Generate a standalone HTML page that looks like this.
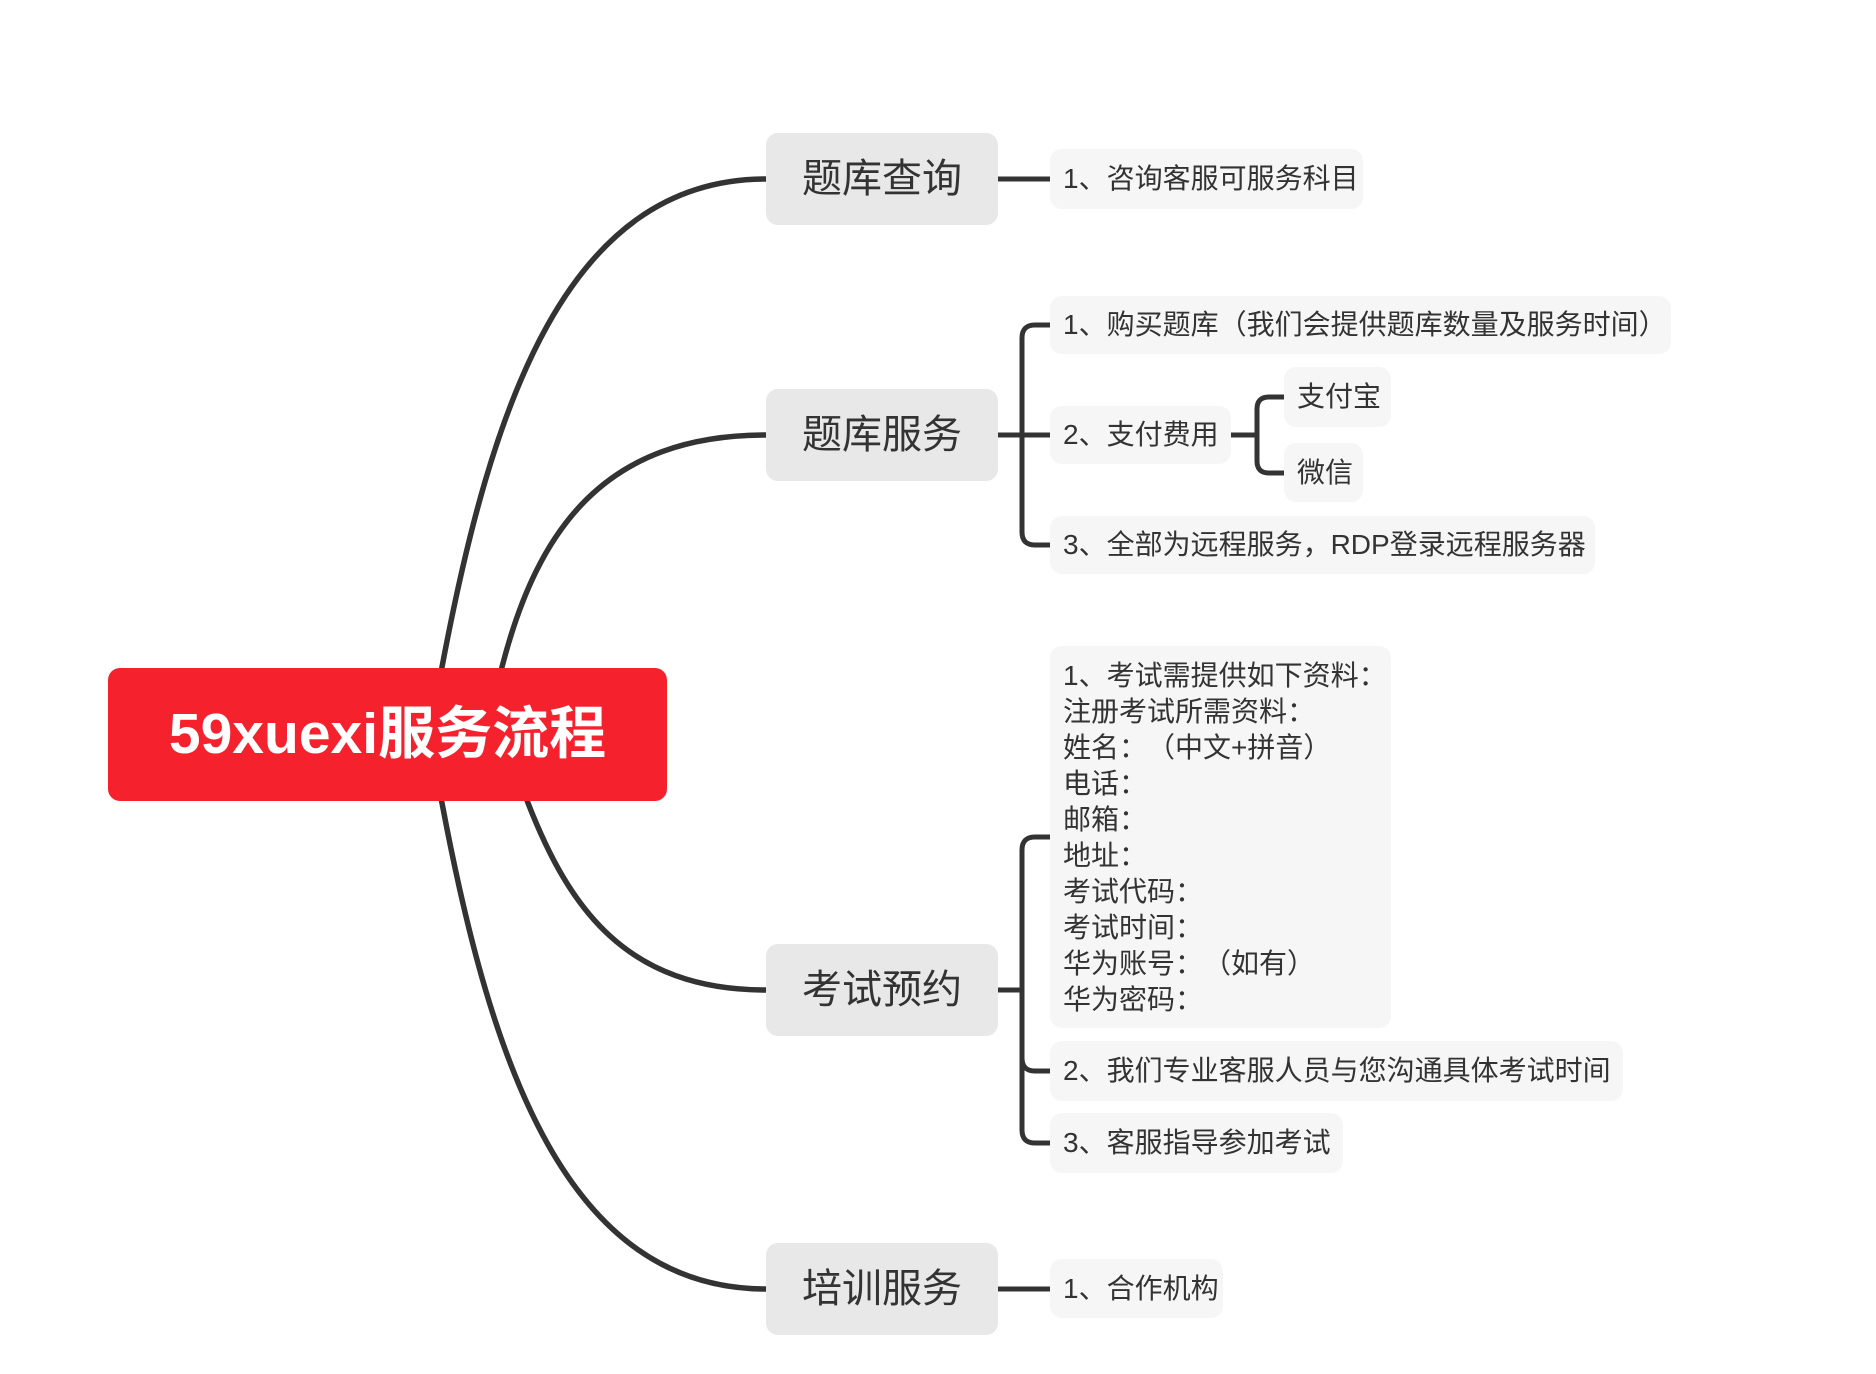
<!DOCTYPE html>
<html>
<head>
<meta charset="utf-8">
<style>
  html,body{margin:0;padding:0;}
  body{width:1876px;height:1374px;background:#ffffff;position:relative;overflow:hidden;
       font-family:"Liberation Sans","Noto Sans CJK SC",sans-serif;text-spacing-trim:space-all;}
  svg{position:absolute;left:0;top:0;}
  .root{position:absolute;left:108px;top:668px;width:559px;height:133px;background:#f5222d;
        border-radius:12px;display:flex;align-items:center;justify-content:center;
        color:#fff;font-size:57px;font-weight:bold;line-height:1;white-space:nowrap;}
  .b{position:absolute;left:766px;width:232px;height:92px;background:#e8e8e8;border-radius:12px;
     display:flex;align-items:center;justify-content:center;font-size:40px;color:#333;line-height:1;white-space:nowrap;}
  .l{position:absolute;background:#f6f6f6;border-radius:12px;display:flex;align-items:center;
     padding-left:13px;box-sizing:border-box;font-size:28px;color:#333;line-height:1;white-space:nowrap;}
  .big{position:absolute;left:1050px;top:646px;width:341px;height:382px;background:#f6f6f6;border-radius:12px;
       box-sizing:border-box;padding:12px 0 0 13px;font-size:28px;line-height:36px;color:#333;white-space:nowrap;}
</style>
</head>
<body>
<svg width="1876" height="1374" viewBox="0 0 1876 1374">
  <g fill="none" stroke="#333333" stroke-width="5.5">
    <path d="M 436 700 L 442 667 C 491 407, 566 179, 766 179"/>
    <path d="M 494 700 L 502 667 C 538 527, 606 435, 766 435"/>
    <path d="M 516 770 L 528 803 C 569 908, 626 990, 766 990"/>
    <path d="M 436 770 L 442 803 C 491 1063, 566 1289, 766 1289"/>
  </g>
  <g fill="none" stroke="#333333" stroke-width="5">
    <path d="M 996 179 H 1052"/>
    <path d="M 996 435 H 1052"/>
    <path d="M 1052 325 H 1035 Q 1022 325 1022 338 V 532 Q 1022 545 1035 545 H 1052"/>
    <path d="M 1229 435 H 1257"/>
    <path d="M 1286 397 H 1269 Q 1257 397 1257 409 V 461 Q 1257 473 1269 473 H 1286"/>
    <path d="M 996 990 H 1022"/>
    <path d="M 1052 837 H 1035 Q 1022 837 1022 850 V 1130 Q 1022 1143 1035 1143 H 1052"/>
    <path d="M 1022 1058 Q 1022 1071 1035 1071 H 1052"/>
    <path d="M 996 1289 H 1052"/>
  </g>
</svg>

<div class="root">59xuexi服务流程</div>

<div class="b" style="top:133px;">题库查询</div>
<div class="b" style="top:389px;">题库服务</div>
<div class="b" style="top:944px;">考试预约</div>
<div class="b" style="top:1243px;">培训服务</div>

<div class="l" style="left:1050px;top:149px;width:313px;height:60px;">1、咨询客服可服务科目</div>

<div class="l" style="left:1050px;top:296px;width:621px;height:58px;">1、购买题库（我们会提供题库数量及服务时间）</div>
<div class="l" style="left:1050px;top:406px;width:181px;height:58px;">2、支付费用</div>
<div class="l" style="left:1284px;top:367px;width:107px;height:60px;">支付宝</div>
<div class="l" style="left:1284px;top:443px;width:79px;height:59px;">微信</div>
<div class="l" style="left:1050px;top:516px;width:545px;height:58px;">3、全部为远程服务，RDP登录远程服务器</div>

<div class="big">1、考试需提供如下资料：<br>注册考试所需资料：<br>姓名：（中文+拼音）<br>电话：<br>邮箱：<br>地址：<br>考试代码：<br>考试时间：<br>华为账号：（如有）<br>华为密码：</div>
<div class="l" style="left:1050px;top:1041px;width:573px;height:60px;">2、我们专业客服人员与您沟通具体考试时间</div>
<div class="l" style="left:1050px;top:1113px;width:293px;height:60px;">3、客服指导参加考试</div>

<div class="l" style="left:1050px;top:1259px;width:173px;height:59px;">1、合作机构</div>
</body>
</html>
